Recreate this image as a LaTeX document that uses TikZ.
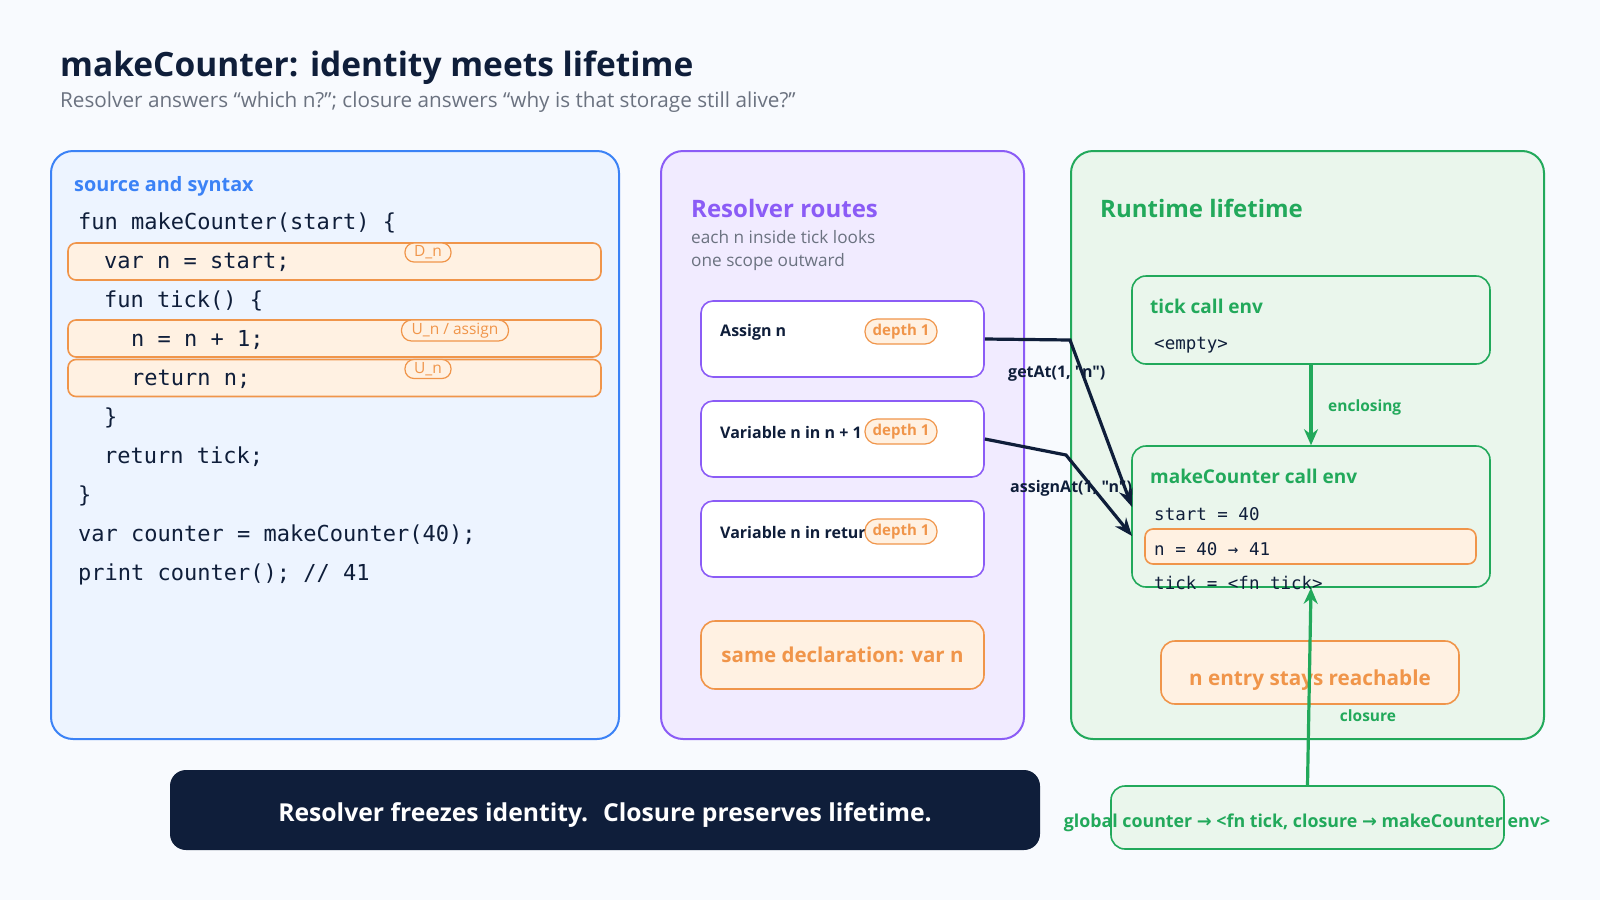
\documentclass[tikz,border=0pt]{standalone}
\usepackage{fontspec}
\setmainfont{Open Sans}
\setmonofont{DejaVu Sans Mono}
\newfontfamily\labelfont{Open Sans}
\newfontfamily\symfont{DejaVu Sans}
\usetikzlibrary{arrows.meta, positioning}
\definecolor{pagebg}{HTML}{F8FAFE}
\definecolor{inkdark}{HTML}{0F1E3A}
\definecolor{mutedgray}{HTML}{6B7280}
\definecolor{srcblue}{HTML}{3B82F6}
\definecolor{srcfill}{HTML}{EDF4FF}
\definecolor{resolvepurple}{HTML}{8B5CF6}
\definecolor{resolvefill}{HTML}{F1EBFF}
\definecolor{runtimegreen}{HTML}{22A95B}
\definecolor{runtimefill}{HTML}{EAF6EC}
\definecolor{hiorange}{HTML}{F0954A}
\definecolor{hifill}{HTML}{FFF1E2}
\newcommand{\setpx}[1]{\fontsize{#1}{#1}\selectfont}
\newcommand{\rarr}{{\symfont\bfseries →}}

\begin{document}
\begin{tikzpicture}[
    x=1pt, y=-1pt,
    panel/.style={draw, line width=2pt, rounded corners=22pt, minimum height=588pt},
    heading/.style={anchor=west, inner sep=0pt, font=\setpx{24}\bfseries},
    codeline/.style={anchor=west, inner sep=0pt, font=\setpx{22}\ttfamily, text=inkdark},
    hilite/.style={draw=hiorange, fill=hifill, line width=1.6pt, rounded corners=8pt, minimum width=533pt, minimum height=37pt},
    tag/.style={draw=hiorange, fill=hifill, line width=1.2pt, rounded corners=9pt, text=hiorange, font=\setpx{15.5}, inner sep=0pt, minimum height=19pt},
    route/.style={draw=resolvepurple, fill=white, line width=1.6pt, rounded corners=12pt, minimum width=283pt, minimum height=76pt},
    routetext/.style={anchor=west, inner sep=0pt, font=\setpx{16}\bfseries, text=inkdark},
    depthtag/.style={tag, rounded corners=12pt, minimum width=72pt, minimum height=25pt, font=\setpx{15}\bfseries},
    envbox/.style={draw=runtimegreen, fill=runtimefill, line width=1.6pt, rounded corners=14pt, minimum width=358pt},
    envtext/.style={anchor=west, inner sep=0pt, font=\setpx{17.5}\ttfamily, text=inkdark},
    notebox/.style={draw=hiorange, fill=hifill, line width=1.6pt, rounded corners=14pt, text=hiorange, font=\setpx{20.5}\bfseries},
    lookup/.style={-{Stealth[length=18pt,width=14pt]}, line width=3.2pt, draw=inkdark},
    link/.style={-{Stealth[length=16pt,width=14pt]}, line width=3.2pt, draw=runtimegreen}
]
    % page
    \fill[pagebg] (0,0) rectangle (1600,900);
    \useasboundingbox (0,0) rectangle (1600,900);

    % Title
    \node[anchor=west, inner sep=0pt, font=\setpx{33.5}\bfseries, text=inkdark] (title) at (60,68) {makeCounter: identity meets lifetime};
    \node[anchor=west, inner sep=0pt, font=\setpx{20.7}, text=mutedgray] (subtitle) at (60,102) {Resolver answers “which n?”; closure answers “why is that storage still alive?”};

    % Panels
    \node[panel, draw=srcblue, fill=srcfill, minimum width=568pt] (srcpanel) at (335,445) {};
    \node[panel, draw=resolvepurple, fill=resolvefill, minimum width=363pt] (respanel) at (842.5,445) {};
    \node[panel, draw=runtimegreen, fill=runtimefill, minimum width=473pt] (rtpanel) at (1307.5,445) {};

    % Source and syntax
    \node[anchor=west, inner sep=0pt, font=\setpx{19.8}\bfseries, text=srcblue] (srchead) at (74,186) {source and syntax};
    \node[hilite] (hdecl) at (334.5,261.5) {};
    \node[hilite] (hassign) at (334.5,338.5) {};
    \node[hilite] (hreturn) at (334.5,378) {};

    \node[codeline] (l1) at (78,223) {fun makeCounter(start) \{};
    \node[codeline] (l2) at (104,262) {var n = start;};
    \node[codeline] (l3) at (104,301) {fun tick() \{};
    \node[codeline] (l4) at (131,340) {n = n + 1;};
    \node[codeline] (l5) at (131,379) {return n;};
    \node[codeline] (l6) at (104,418) {\}};
    \node[codeline] (l7) at (104,457) {return tick;};
    \node[codeline] (l8) at (78,496) {\}};
    \node[codeline] (l9) at (78,535) {var counter = makeCounter(40);};
    \node[codeline] (l10) at (78,574) {print counter(); // 41};

    \node[tag, minimum width=46pt] (tdecl) at (428,252.5) {D\_n};
    \node[tag, minimum width=107pt, minimum height=21pt, rounded corners=10pt] (tassign) at (455,330.5) {U\_n / assign};
    \node[tag, minimum width=46pt] (treturn) at (428,369) {U\_n};

    % Resolver routes
    \node[heading, text=resolvepurple] (reshead) at (691,208) {Resolver routes};
    \node[anchor=north west, inner sep=0pt, align=left, font=\fontsize{17.2}{23}\selectfont, text=mutedgray] (resnote) at (691,230) {each n inside tick looks\\one scope outward};

    \node[route] (r1) at (842.5,339) {};
    \node[route] (r2) at (842.5,439) {};
    \node[route] (r3) at (842.5,539) {};
    \node[routetext] (r1text) at (720,332) {Assign n};
    \node[routetext] (r2text) at (720,432) {Variable n in n + 1};
    \node[routetext] (r3text) at (720,532) {Variable n in retur};
    \node[depthtag] (d1) at (901,331.5) {depth 1};
    \node[depthtag] (d2) at (901,431.5) {depth 1};
    \node[depthtag] (d3) at (901,531.5) {depth 1};

    \node[notebox, minimum width=283pt, minimum height=68pt] (samedecl) at (842.5,655) {same declaration: var n};

    % Runtime lifetime
    \node[heading, text=runtimegreen] (rthead) at (1100,208) {Runtime lifetime};

    \node[envbox, minimum height=88pt] (tickenv) at (1311,320) {};
    \node[anchor=west, inner sep=0pt, font=\setpx{19}\bfseries, text=runtimegreen] (ticktitle) at (1150,306) {tick call env};
    \node[envtext] (tickempty) at (1154,345) {<empty>};

    \node[envbox, minimum height=141pt] (mcenv) at (1311,516.5) {};
    \node[anchor=west, inner sep=0pt, font=\setpx{19}\bfseries, text=runtimegreen] (mctitle) at (1150,476) {makeCounter call env};
    \node[envtext] (mcstart) at (1154,514) {start = 40};
    \node[draw=hiorange, fill=hifill, line width=1.6pt, rounded corners=8pt, minimum width=331pt, minimum height=35pt] (mcn) at (1310.5,546.5) {};
    \node[envtext] (mcntext) at (1154,549) {n = 40 → 41};
    \node[envtext] (mctick) at (1154,583) {tick = <fn tick>};

    \node[notebox, minimum width=298pt, minimum height=63pt] (reach) at (1310,672.5) {};
    \node[inner sep=0pt, font=\setpx{20.7}\bfseries, text=hiorange] (reachtext) at (1310,680) {n entry stays reachable};

    \node[envbox, minimum width=393pt, minimum height=63pt] (globalbox) at (1307.5,817.5) {};
    \node[inner sep=0pt, font=\setpx{17.8}\bfseries, text=runtimegreen] (globaltext) at (1307,823) {global counter \rarr{} <fn tick, closure \rarr{} makeCounter env>};

    % Bottom banner
    \node[fill=inkdark, rounded corners=16pt, minimum width=870pt, minimum height=80pt] (banner) at (605,810) {};
    \node[inner sep=0pt, text=white, font=\setpx{24.7}\bfseries] (bannertext) at (605,815) {Resolver freezes identity.~ Closure preserves lifetime.};

    % Connections
    \node[anchor=west, inner sep=0pt, font=\setpx{16}\labelfont\bfseries, text=inkdark] (getlabel) at (1008,374) {getAt(1, "n")};
    \node[anchor=west, inner sep=0pt, font=\setpx{16}\labelfont\bfseries, text=inkdark] (assignlabel) at (1010,488) {assignAt(1, "n")};
    \coordinate (getbend) at (1070,340);
    \coordinate (gettip) at (1132,507);
    \coordinate (assignbend) at (1066,455);
    \coordinate (assigntip) at (1132,536);
    \draw[lookup] (r1.east) -- (getbend) -- (gettip);
    \draw[lookup] (r2.east) -- (assignbend) -- (assigntip);

    \draw[link] (tickenv.south) -- (mcenv.north);
    \node[anchor=west, inner sep=0pt, font=\setpx{15.5}\bfseries, text=runtimegreen] (enclabel) at (1328,407) {enclosing};
    \draw[link] (globalbox.north) -- (mcenv.south);
    \node[inner sep=0pt, font=\setpx{15.5}\bfseries, text=runtimegreen] (closlabel) at (1368,716) {closure};
\end{tikzpicture}
\end{document}
